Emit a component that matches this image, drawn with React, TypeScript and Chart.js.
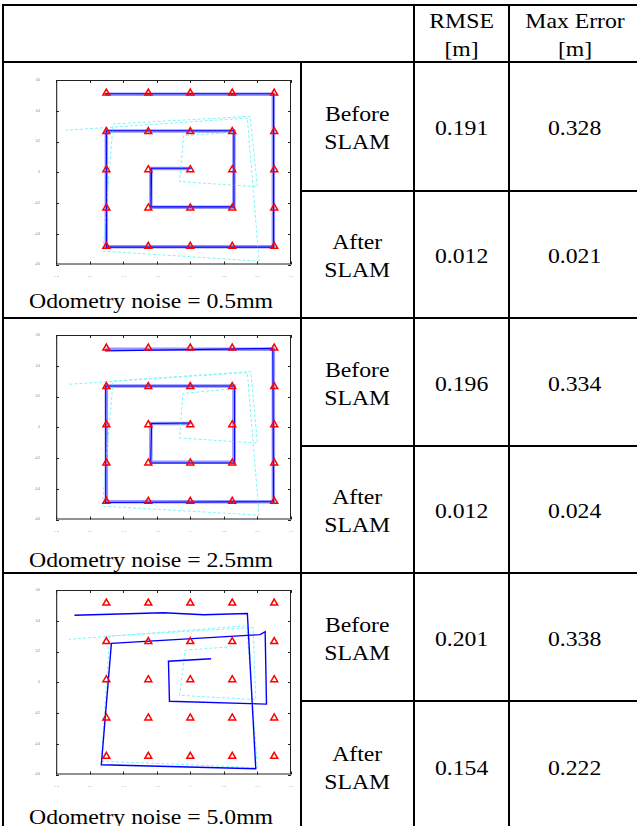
import React, { useEffect, useRef } from "react";
import { Chart, registerables } from "chart.js";

Chart.register(...registerables);

// ---------- table text ----------
const HEADER_RMSE = ["RMSE", "[m]"];
const HEADER_MAX = ["Max Error", "[m]"];
const STAGE_BEFORE = ["Before", "SLAM"];
const STAGE_AFTER = ["After", "SLAM"];
const NOISE_LABELS = ["Odometry noise = 0.5mm", "Odometry noise = 2.5mm", "Odometry noise = 5.0mm"];
const RMSE_BEFORE = ["0.191", "0.196", "0.201"];
const RMSE_AFTER = ["0.012", "0.012", "0.154"];
const MAX_BEFORE = ["0.328", "0.334", "0.338"];
const MAX_AFTER = ["0.021", "0.024", "0.222"];

// ---------- plot axes ----------
const X_MIN = -0.8;
const X_MAX = 0.6;
const Y_MIN = -0.6;
const Y_MAX = 0.6;
const TICK_STEP = 0.2;

// ---------- landmarks (5 x 5 grid) ----------
const LANDMARK_X = [-0.5, -0.25, 0, 0.25, 0.5];
const LANDMARK_Y = [0.515, 0.265, 0.017, -0.232, -0.482];

// ---------- ground-truth spiral ----------
const TRUE_X = [0.0, -0.235, -0.235, 0.26, 0.26, -0.5, -0.5, 0.495, 0.495, -0.505];
const TRUE_Y = [0.025, 0.025, -0.228, -0.228, 0.268, 0.268, -0.485, -0.485, 0.508, 0.508];

// ---------- plot 1 (0.5 mm) ----------
const SLAM1_X = [0.01, -0.23, -0.234, 0.26, 0.26, -0.5, -0.5, 0.496, 0.496, -0.51];
const SLAM1_Y = [0.026, 0.026, -0.225, -0.225, 0.27, 0.27, -0.487, -0.487, 0.511, 0.511];
const ODOM1_X = [0.26, -0.04, -0.064, 0.4, 0.356, -0.46, -0.52, 0.41, 0.34, -0.74];
const ODOM1_Y = [0.26, 0.238, -0.061, -0.094, 0.364, 0.314, -0.513, -0.578, 0.353, 0.273];

// ---------- plot 2 (2.5 mm) ----------
const SLAM2_X = [0.01, -0.23, -0.236, 0.264, 0.264, -0.504, -0.504, 0.496, 0.492, -0.508];
const SLAM2_Y = [0.028, 0.024, -0.233, -0.233, 0.268, 0.268, -0.489, -0.484, 0.513, 0.497];
const ODOM2_X = [0.26, -0.044, -0.064, 0.4, 0.36, -0.46, -0.524, 0.41, 0.34, -0.73];
const ODOM2_Y = [0.251, 0.22, -0.07, -0.103, 0.362, 0.301, -0.513, -0.572, 0.356, 0.279];

// ---------- plot 3 (5.0 mm) ----------
const SLAM3_X = [0.124, -0.13, -0.124, 0.454, 0.446, 0.416, -0.47, -0.53, 0.39, 0.34, 0.08, -0.16, -0.69];
const SLAM3_Y = [0.153, 0.137, -0.124, -0.142, 0.329, 0.31, 0.253, -0.537, -0.563, 0.447, 0.439, 0.452, 0.436];
const ODOM3_X = [0.25, -0.03, -0.064, 0.39, 0.374, -0.48, -0.53, 0.4, 0.336, -0.724];
const ODOM3_Y = [0.231, 0.209, -0.085, -0.113, 0.356, 0.301, -0.513, -0.556, 0.367, 0.279];

const PLOTS = [
  { slamX: SLAM1_X, slamY: SLAM1_Y, odomX: ODOM1_X, odomY: ODOM1_Y, truth: true, slamW: 1.1 },
  { slamX: SLAM2_X, slamY: SLAM2_Y, odomX: ODOM2_X, odomY: ODOM2_Y, truth: true, slamW: 1.1 },
  { slamX: SLAM3_X, slamY: SLAM3_Y, odomX: ODOM3_X, odomY: ODOM3_Y, truth: false, slamW: 1.4 },
];

const pts = (xs: number[], ys: number[]) => xs.map((x, i) => ({ x, y: ys[i] }));

const fmtTick = (v: any) => {
  const r = Math.round(Number(v) * 10) / 10;
  return r === 0 ? "0" : String(r);
};

const boxPlugin = {
  id: "matlabBox",
  afterDraw(chart: any) {
    const { ctx, chartArea: a, scales } = chart;
    ctx.save();
    ctx.strokeStyle = "#222";
    ctx.lineWidth = 1;
    ctx.strokeRect(a.left + 0.5, a.top + 0.5, a.right - a.left - 1, a.bottom - a.top - 1);
    ctx.fillStyle = "rgba(80,80,80,0.6)";
    ctx.fillRect(a.left, a.top, 1.5, a.bottom - a.top);
    const L = 3;
    ctx.beginPath();
    scales.x.ticks.forEach((t: any) => {
      const px = Math.round(scales.x.getPixelForValue(t.value)) + 0.5;
      ctx.moveTo(px, a.bottom);
      ctx.lineTo(px, a.bottom - L);
      ctx.moveTo(px, a.top);
      ctx.lineTo(px, a.top + L);
    });
    scales.y.ticks.forEach((t: any) => {
      const py = Math.round(scales.y.getPixelForValue(t.value)) + 0.5;
      ctx.moveTo(a.left, py);
      ctx.lineTo(a.left + L, py);
      ctx.moveTo(a.right, py);
      ctx.lineTo(a.right - L, py);
    });
    ctx.stroke();
    ctx.restore();
  },
};

function makeConfig(idx: number): any {
  const p = PLOTS[idx];
  const landmarks: { x: number; y: number }[] = [];
  LANDMARK_Y.forEach((y) => LANDMARK_X.forEach((x) => landmarks.push({ x, y })));
  const datasets: any[] = [
    {
      data: landmarks,
      showLine: false,
      pointStyle: "triangle",
      pointRadius: 4,
      borderColor: "#ff0000",
      backgroundColor: "rgba(255,255,255,0)",
      borderWidth: 1.5,
      order: 0,
    },
    {
      data: pts(p.slamX, p.slamY),
      showLine: true,
      borderColor: "#0000ff",
      borderWidth: p.slamW,
      pointRadius: 0,
      order: 1,
    },
    {
      data: pts(p.odomX, p.odomY),
      showLine: true,
      borderColor: "rgb(125,245,250)",
      borderWidth: 1,
      borderDash: [3, 2],
      pointRadius: 0,
      order: 2,
    },
  ];
  if (p.truth) {
    datasets.push({
      data: pts(TRUE_X, TRUE_Y),
      showLine: true,
      borderColor: "rgb(150,150,255)",
      borderWidth: 3.5,
      pointRadius: 0,
      order: 3,
    });
  }
  return {
    type: "scatter",
    data: { datasets },
    options: {
      animation: false,
      responsive: false,
      layout: { padding: { top: 13, right: 9, left: 0, bottom: 0 } },
      plugins: { legend: { display: false }, tooltip: { enabled: false } },
      scales: {
        x: {
          type: "linear",
          min: X_MIN,
          max: X_MAX,
          grid: { display: false },
          border: { display: false },
          ticks: {
            stepSize: TICK_STEP,
            autoSkip: false,
            maxRotation: 0,
            padding: 4,
            font: { size: 3 },
            color: "#777",
            callback: fmtTick,
          },
          afterFit: (s: any) => {
            s.height = 12.5;
          },
        },
        y: {
          type: "linear",
          min: Y_MIN,
          max: Y_MAX,
          grid: { display: false },
          border: { display: false },
          ticks: {
            stepSize: TICK_STEP,
            autoSkip: false,
            padding: 8,
            font: { size: 3 },
            color: "#777",
            callback: fmtTick,
          },
          afterFit: (s: any) => {
            s.width = 28;
          },
        },
      },
    },
    plugins: [boxPlugin],
  };
}

function Plot({ idx, left, top }: { idx: number; left: number; top: number }) {
  const ref = useRef<HTMLCanvasElement>(null);
  useEffect(() => {
    const chart = new Chart(ref.current as HTMLCanvasElement, makeConfig(idx));
    return () => chart.destroy();
  }, [idx]);
  return (
    <canvas
      ref={ref}
      width={272}
      height={210}
      style={{ position: "absolute", left, top, width: 272, height: 210 }}
    />
  );
}

const FONT = '"Liberation Serif", "Times New Roman", serif';

function TextCell({ x0, x1, y0, y1, lines }: { x0: number; x1: number; y0: number; y1: number; lines: string[] }) {
  return (
    <div
      style={{
        position: "absolute",
        left: x0,
        top: y0 + 1.5,
        width: x1 - x0,
        height: y1 - y0,
        display: "flex",
        alignItems: "center",
        justifyContent: "center",
      }}
    >
      <div
        style={{
          textAlign: "center",
          fontSize: 21,
          lineHeight: "28px",
          transform: "scaleX(1.13)",
          whiteSpace: "nowrap",
        }}
      >
        {lines.map((l, i) => (
          <div key={i}>{l}</div>
        ))}
      </div>
    </div>
  );
}

function HLine({ y, x0, x1 }: { y: number; x0: number; x1: number }) {
  return <div style={{ position: "absolute", left: x0, top: y - 1, width: x1 - x0, height: 2, background: "#000" }} />;
}
function VLine({ x, y0, y1 }: { x: number; y0: number; y1: number }) {
  return <div style={{ position: "absolute", left: x - 1, top: y0, width: 2, height: y1 - y0, background: "#000" }} />;
}

export default function App() {
  const R = 641; // right border (outside view)
  const B = 832; // bottom border (outside view)
  const colX = [3, 301, 414.3, 509];
  const groupTop = [62.3, 318.3, 573.3];
  const split = [190.7, 446, 701];
  const groupBottom = [318.3, 573.3, B];
  const boxTop = [80, 335, 590];
  const captionBaseline = [308.5, 567.5, 824];

  return (
    <div
      style={{
        position: "absolute",
        left: 0,
        top: 0,
        width: 637,
        height: 826,
        overflow: "hidden",
        background: "#fff",
        fontFamily: FONT,
        color: "#000",
      }}
    >
      {/* grid lines */}
      <HLine y={5} x0={2} x1={R} />
      <HLine y={groupTop[0]} x0={2} x1={R} />
      <HLine y={groupTop[1]} x0={2} x1={R} />
      <HLine y={groupTop[2]} x0={2} x1={R} />
      {split.map((y, i) => (
        <HLine key={"s" + i} y={y} x0={colX[1] - 1} x1={R} />
      ))}
      <VLine x={colX[0]} y0={4} y1={B} />
      <VLine x={colX[1]} y0={groupTop[0]} y1={B} />
      <VLine x={colX[2]} y0={4} y1={B} />
      <VLine x={colX[3]} y0={4} y1={B} />
      <VLine x={R} y0={4} y1={B} />

      {/* header */}
      <TextCell x0={colX[2]} x1={colX[3]} y0={6} y1={groupTop[0] - 1} lines={HEADER_RMSE} />
      <TextCell x0={colX[3]} x1={R} y0={6} y1={groupTop[0] - 1} lines={HEADER_MAX} />

      {groupTop.map((gt, i) => (
        <React.Fragment key={i}>
          <Plot idx={i} left={28} top={boxTop[i] - 13} />
          <div
            style={{
              position: "absolute",
              left: 29,
              top: captionBaseline[i] - 21.1,
              fontSize: 21,
              lineHeight: "28px",
              whiteSpace: "nowrap",
              transform: "scaleX(1.13)",
              transformOrigin: "left center",
            }}
          >
            {NOISE_LABELS[i]}
          </div>
          <TextCell x0={colX[1]} x1={colX[2]} y0={gt + 1} y1={split[i] - 1} lines={STAGE_BEFORE} />
          <TextCell x0={colX[1]} x1={colX[2]} y0={split[i] + 1} y1={groupBottom[i] - 1} lines={STAGE_AFTER} />
          <TextCell x0={colX[2]} x1={colX[3]} y0={gt + 1} y1={split[i] - 1} lines={[RMSE_BEFORE[i]]} />
          <TextCell x0={colX[2]} x1={colX[3]} y0={split[i] + 1} y1={groupBottom[i] - 1} lines={[RMSE_AFTER[i]]} />
          <TextCell x0={colX[3]} x1={R} y0={gt + 1} y1={split[i] - 1} lines={[MAX_BEFORE[i]]} />
          <TextCell x0={colX[3]} x1={R} y0={split[i] + 1} y1={groupBottom[i] - 1} lines={[MAX_AFTER[i]]} />
        </React.Fragment>
      ))}
    </div>
  );
}
